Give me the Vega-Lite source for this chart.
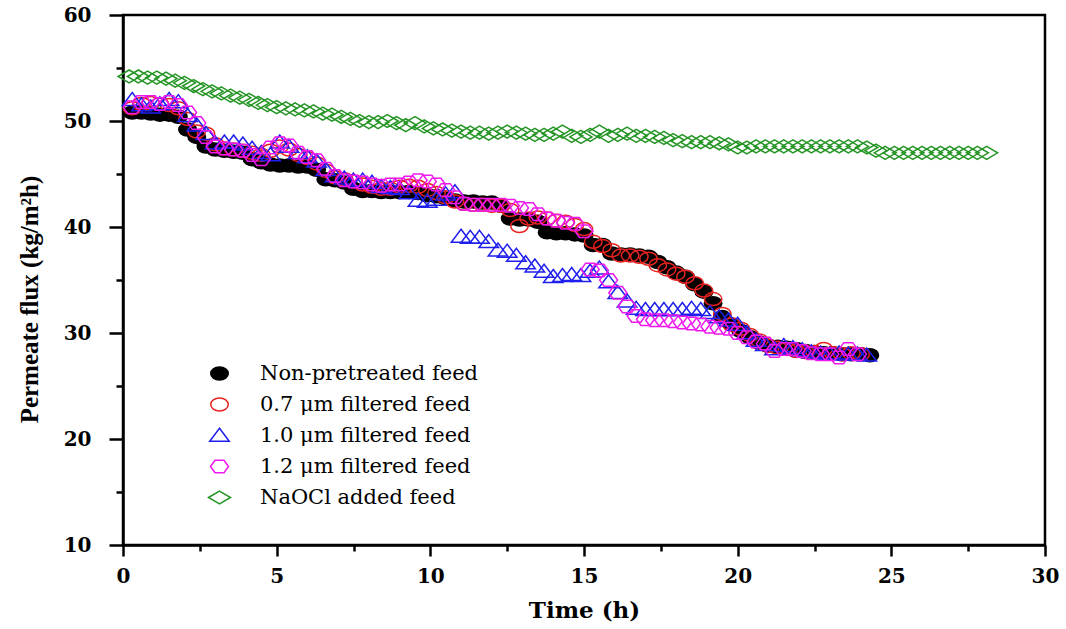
{
"$schema": "https://vega.github.io/schema/vega-lite/v6.json",
"autosize": "none",
"width": 922,
"height": 530,
"padding": {"left": 123, "top": 15, "right": 21, "bottom": 84},
"background": "white",
"config": {
  "view": {"stroke": "black", "strokeWidth": 2.5},
  "axis": {"grid": false, "domainColor": "black", "domainWidth": 2.5, "tickColor": "black", "tickWidth": 2.5, "labelColor": "black", "titleColor": "black"}
},
"data": {"values": [
{"f":"Non-pretreated feed","t":0.3,"v":50.8},{"f":"Non-pretreated feed","t":0.6,"v":50.8},{"f":"Non-pretreated feed","t":0.9,"v":50.7},{"f":"Non-pretreated feed","t":1.2,"v":50.6},{"f":"Non-pretreated feed","t":1.5,"v":50.6},{"f":"Non-pretreated feed","t":1.8,"v":50.4},{"f":"Non-pretreated feed","t":2.1,"v":49.2},{"f":"Non-pretreated feed","t":2.4,"v":48.5},{"f":"Non-pretreated feed","t":2.7,"v":47.6},{"f":"Non-pretreated feed","t":3.0,"v":47.3},{"f":"Non-pretreated feed","t":3.3,"v":47.2},{"f":"Non-pretreated feed","t":3.6,"v":47.1},{"f":"Non-pretreated feed","t":3.9,"v":47.0},{"f":"Non-pretreated feed","t":4.2,"v":46.4},{"f":"Non-pretreated feed","t":4.5,"v":46.1},{"f":"Non-pretreated feed","t":4.8,"v":45.9},{"f":"Non-pretreated feed","t":5.1,"v":45.8},{"f":"Non-pretreated feed","t":5.4,"v":45.8},{"f":"Non-pretreated feed","t":5.7,"v":45.7},{"f":"Non-pretreated feed","t":6.0,"v":45.7},{"f":"Non-pretreated feed","t":6.3,"v":45.4},{"f":"Non-pretreated feed","t":6.6,"v":44.5},{"f":"Non-pretreated feed","t":6.9,"v":44.4},{"f":"Non-pretreated feed","t":7.2,"v":44.2},{"f":"Non-pretreated feed","t":7.5,"v":43.6},{"f":"Non-pretreated feed","t":7.8,"v":43.4},{"f":"Non-pretreated feed","t":8.1,"v":43.4},{"f":"Non-pretreated feed","t":8.4,"v":43.3},{"f":"Non-pretreated feed","t":8.7,"v":43.3},{"f":"Non-pretreated feed","t":9.0,"v":43.3},{"f":"Non-pretreated feed","t":9.3,"v":43.3},{"f":"Non-pretreated feed","t":9.6,"v":43.2},{"f":"Non-pretreated feed","t":9.9,"v":43.0},{"f":"Non-pretreated feed","t":10.2,"v":42.9},{"f":"Non-pretreated feed","t":10.5,"v":42.7},{"f":"Non-pretreated feed","t":10.8,"v":42.5},{"f":"Non-pretreated feed","t":11.1,"v":42.4},{"f":"Non-pretreated feed","t":11.4,"v":42.4},{"f":"Non-pretreated feed","t":11.7,"v":42.3},{"f":"Non-pretreated feed","t":12.0,"v":42.3},{"f":"Non-pretreated feed","t":12.3,"v":42.0},{"f":"Non-pretreated feed","t":12.6,"v":40.8},{"f":"Non-pretreated feed","t":12.9,"v":40.7},{"f":"Non-pretreated feed","t":13.2,"v":40.7},{"f":"Non-pretreated feed","t":13.5,"v":40.5},{"f":"Non-pretreated feed","t":13.8,"v":39.5},{"f":"Non-pretreated feed","t":14.1,"v":39.4},{"f":"Non-pretreated feed","t":14.4,"v":39.4},{"f":"Non-pretreated feed","t":14.7,"v":39.3},{"f":"Non-pretreated feed","t":15.0,"v":39.2},{"f":"Non-pretreated feed","t":15.3,"v":38.3},{"f":"Non-pretreated feed","t":15.6,"v":38.3},{"f":"Non-pretreated feed","t":15.9,"v":37.5},{"f":"Non-pretreated feed","t":16.2,"v":37.4},{"f":"Non-pretreated feed","t":16.5,"v":37.4},{"f":"Non-pretreated feed","t":16.8,"v":37.3},{"f":"Non-pretreated feed","t":17.1,"v":37.2},{"f":"Non-pretreated feed","t":17.4,"v":36.7},{"f":"Non-pretreated feed","t":17.7,"v":36.2},{"f":"Non-pretreated feed","t":18.0,"v":35.7},{"f":"Non-pretreated feed","t":18.3,"v":35.3},{"f":"Non-pretreated feed","t":18.6,"v":34.6},{"f":"Non-pretreated feed","t":18.9,"v":33.9},{"f":"Non-pretreated feed","t":19.2,"v":32.8},{"f":"Non-pretreated feed","t":19.5,"v":31.5},{"f":"Non-pretreated feed","t":19.8,"v":30.8},{"f":"Non-pretreated feed","t":20.1,"v":30.2},{"f":"Non-pretreated feed","t":20.4,"v":29.6},{"f":"Non-pretreated feed","t":20.7,"v":29.1},{"f":"Non-pretreated feed","t":21.0,"v":28.8},{"f":"Non-pretreated feed","t":21.3,"v":28.7},{"f":"Non-pretreated feed","t":21.6,"v":28.6},{"f":"Non-pretreated feed","t":21.9,"v":28.5},{"f":"Non-pretreated feed","t":22.2,"v":28.3},{"f":"Non-pretreated feed","t":22.5,"v":28.2},{"f":"Non-pretreated feed","t":22.8,"v":28.1},{"f":"Non-pretreated feed","t":23.1,"v":28.1},{"f":"Non-pretreated feed","t":23.4,"v":28.0},{"f":"Non-pretreated feed","t":23.7,"v":28.0},{"f":"Non-pretreated feed","t":24.0,"v":28.0},{"f":"Non-pretreated feed","t":24.3,"v":27.9},
{"f":"0.7 μm filtered feed","t":0.3,"v":51.2},{"f":"0.7 μm filtered feed","t":0.6,"v":51.6},{"f":"0.7 μm filtered feed","t":0.9,"v":51.7},{"f":"0.7 μm filtered feed","t":1.2,"v":51.6},{"f":"0.7 μm filtered feed","t":1.5,"v":51.5},{"f":"0.7 μm filtered feed","t":1.8,"v":51.2},{"f":"0.7 μm filtered feed","t":2.1,"v":50.2},{"f":"0.7 μm filtered feed","t":2.4,"v":49.0},{"f":"0.7 μm filtered feed","t":2.7,"v":48.8},{"f":"0.7 μm filtered feed","t":3.0,"v":47.8},{"f":"0.7 μm filtered feed","t":3.3,"v":47.4},{"f":"0.7 μm filtered feed","t":3.6,"v":47.3},{"f":"0.7 μm filtered feed","t":3.9,"v":47.2},{"f":"0.7 μm filtered feed","t":4.2,"v":47.0},{"f":"0.7 μm filtered feed","t":4.5,"v":46.8},{"f":"0.7 μm filtered feed","t":4.8,"v":47.2},{"f":"0.7 μm filtered feed","t":5.1,"v":47.6},{"f":"0.7 μm filtered feed","t":5.4,"v":47.3},{"f":"0.7 μm filtered feed","t":5.7,"v":46.8},{"f":"0.7 μm filtered feed","t":6.0,"v":46.5},{"f":"0.7 μm filtered feed","t":6.3,"v":46.0},{"f":"0.7 μm filtered feed","t":6.6,"v":45.3},{"f":"0.7 μm filtered feed","t":6.9,"v":44.7},{"f":"0.7 μm filtered feed","t":7.2,"v":44.5},{"f":"0.7 μm filtered feed","t":7.5,"v":44.3},{"f":"0.7 μm filtered feed","t":7.8,"v":44.0},{"f":"0.7 μm filtered feed","t":8.1,"v":43.8},{"f":"0.7 μm filtered feed","t":8.4,"v":43.6},{"f":"0.7 μm filtered feed","t":8.7,"v":43.6},{"f":"0.7 μm filtered feed","t":9.0,"v":43.8},{"f":"0.7 μm filtered feed","t":9.3,"v":43.9},{"f":"0.7 μm filtered feed","t":9.6,"v":43.8},{"f":"0.7 μm filtered feed","t":9.9,"v":43.5},{"f":"0.7 μm filtered feed","t":10.2,"v":43.2},{"f":"0.7 μm filtered feed","t":10.5,"v":42.8},{"f":"0.7 μm filtered feed","t":10.8,"v":42.4},{"f":"0.7 μm filtered feed","t":11.1,"v":42.2},{"f":"0.7 μm filtered feed","t":11.4,"v":42.1},{"f":"0.7 μm filtered feed","t":11.7,"v":42.1},{"f":"0.7 μm filtered feed","t":12.0,"v":42.0},{"f":"0.7 μm filtered feed","t":12.3,"v":42.0},{"f":"0.7 μm filtered feed","t":12.6,"v":41.6},{"f":"0.7 μm filtered feed","t":12.9,"v":40.1},{"f":"0.7 μm filtered feed","t":13.2,"v":40.8},{"f":"0.7 μm filtered feed","t":13.5,"v":40.9},{"f":"0.7 μm filtered feed","t":13.8,"v":40.8},{"f":"0.7 μm filtered feed","t":14.1,"v":40.6},{"f":"0.7 μm filtered feed","t":14.4,"v":40.5},{"f":"0.7 μm filtered feed","t":14.7,"v":40.2},{"f":"0.7 μm filtered feed","t":15.0,"v":39.8},{"f":"0.7 μm filtered feed","t":15.3,"v":38.6},{"f":"0.7 μm filtered feed","t":15.6,"v":38.2},{"f":"0.7 μm filtered feed","t":15.9,"v":37.8},{"f":"0.7 μm filtered feed","t":16.2,"v":37.3},{"f":"0.7 μm filtered feed","t":16.5,"v":37.3},{"f":"0.7 μm filtered feed","t":16.8,"v":37.2},{"f":"0.7 μm filtered feed","t":17.1,"v":37.0},{"f":"0.7 μm filtered feed","t":17.4,"v":36.4},{"f":"0.7 μm filtered feed","t":17.7,"v":36.0},{"f":"0.7 μm filtered feed","t":18.0,"v":35.6},{"f":"0.7 μm filtered feed","t":18.3,"v":35.3},{"f":"0.7 μm filtered feed","t":18.6,"v":34.7},{"f":"0.7 μm filtered feed","t":18.9,"v":34.0},{"f":"0.7 μm filtered feed","t":19.2,"v":33.2},{"f":"0.7 μm filtered feed","t":19.5,"v":31.8},{"f":"0.7 μm filtered feed","t":19.8,"v":30.8},{"f":"0.7 μm filtered feed","t":20.1,"v":30.4},{"f":"0.7 μm filtered feed","t":20.4,"v":29.8},{"f":"0.7 μm filtered feed","t":20.7,"v":29.3},{"f":"0.7 μm filtered feed","t":21.0,"v":28.8},{"f":"0.7 μm filtered feed","t":21.3,"v":28.6},{"f":"0.7 μm filtered feed","t":21.6,"v":28.5},{"f":"0.7 μm filtered feed","t":21.9,"v":28.3},{"f":"0.7 μm filtered feed","t":22.2,"v":28.2},{"f":"0.7 μm filtered feed","t":22.5,"v":28.2},{"f":"0.7 μm filtered feed","t":22.8,"v":28.5},{"f":"0.7 μm filtered feed","t":23.1,"v":28.1},{"f":"0.7 μm filtered feed","t":23.4,"v":28.0},{"f":"0.7 μm filtered feed","t":23.7,"v":28.1},{"f":"0.7 μm filtered feed","t":24.0,"v":28.0},
{"f":"1.0 μm filtered feed","t":0.3,"v":52.0},{"f":"1.0 μm filtered feed","t":0.6,"v":51.5},{"f":"1.0 μm filtered feed","t":0.9,"v":51.3},{"f":"1.0 μm filtered feed","t":1.2,"v":51.6},{"f":"1.0 μm filtered feed","t":1.5,"v":52.0},{"f":"1.0 μm filtered feed","t":1.8,"v":51.8},{"f":"1.0 μm filtered feed","t":2.1,"v":50.5},{"f":"1.0 μm filtered feed","t":2.4,"v":49.6},{"f":"1.0 μm filtered feed","t":2.7,"v":48.8},{"f":"1.0 μm filtered feed","t":3.0,"v":47.9},{"f":"1.0 μm filtered feed","t":3.3,"v":48.0},{"f":"1.0 μm filtered feed","t":3.6,"v":48.0},{"f":"1.0 μm filtered feed","t":3.9,"v":47.8},{"f":"1.0 μm filtered feed","t":4.2,"v":47.4},{"f":"1.0 μm filtered feed","t":4.5,"v":47.0},{"f":"1.0 μm filtered feed","t":4.8,"v":46.8},{"f":"1.0 μm filtered feed","t":5.1,"v":48.0},{"f":"1.0 μm filtered feed","t":5.4,"v":47.6},{"f":"1.0 μm filtered feed","t":5.7,"v":47.0},{"f":"1.0 μm filtered feed","t":6.0,"v":46.6},{"f":"1.0 μm filtered feed","t":6.3,"v":46.2},{"f":"1.0 μm filtered feed","t":6.6,"v":45.4},{"f":"1.0 μm filtered feed","t":6.9,"v":44.8},{"f":"1.0 μm filtered feed","t":7.2,"v":44.6},{"f":"1.0 μm filtered feed","t":7.5,"v":44.4},{"f":"1.0 μm filtered feed","t":7.8,"v":44.4},{"f":"1.0 μm filtered feed","t":8.1,"v":44.2},{"f":"1.0 μm filtered feed","t":8.4,"v":43.8},{"f":"1.0 μm filtered feed","t":8.7,"v":43.7},{"f":"1.0 μm filtered feed","t":9.0,"v":43.6},{"f":"1.0 μm filtered feed","t":9.3,"v":43.2},{"f":"1.0 μm filtered feed","t":9.6,"v":42.5},{"f":"1.0 μm filtered feed","t":9.9,"v":42.4},{"f":"1.0 μm filtered feed","t":10.2,"v":42.6},{"f":"1.0 μm filtered feed","t":10.5,"v":43.1},{"f":"1.0 μm filtered feed","t":10.8,"v":43.3},{"f":"1.0 μm filtered feed","t":11.0,"v":39.1},{"f":"1.0 μm filtered feed","t":11.3,"v":39.0},{"f":"1.0 μm filtered feed","t":11.6,"v":39.0},{"f":"1.0 μm filtered feed","t":11.9,"v":38.6},{"f":"1.0 μm filtered feed","t":12.2,"v":37.8},{"f":"1.0 μm filtered feed","t":12.5,"v":37.7},{"f":"1.0 μm filtered feed","t":12.8,"v":37.3},{"f":"1.0 μm filtered feed","t":13.1,"v":36.6},{"f":"1.0 μm filtered feed","t":13.4,"v":36.3},{"f":"1.0 μm filtered feed","t":13.7,"v":35.8},{"f":"1.0 μm filtered feed","t":14.0,"v":35.3},{"f":"1.0 μm filtered feed","t":14.3,"v":35.4},{"f":"1.0 μm filtered feed","t":14.6,"v":35.5},{"f":"1.0 μm filtered feed","t":14.9,"v":35.4},{"f":"1.0 μm filtered feed","t":15.2,"v":35.8},{"f":"1.0 μm filtered feed","t":15.5,"v":36.1},{"f":"1.0 μm filtered feed","t":15.8,"v":34.8},{"f":"1.0 μm filtered feed","t":16.1,"v":33.8},{"f":"1.0 μm filtered feed","t":16.4,"v":33.0},{"f":"1.0 μm filtered feed","t":16.7,"v":32.3},{"f":"1.0 μm filtered feed","t":17.0,"v":32.2},{"f":"1.0 μm filtered feed","t":17.3,"v":32.2},{"f":"1.0 μm filtered feed","t":17.6,"v":32.2},{"f":"1.0 μm filtered feed","t":17.9,"v":32.2},{"f":"1.0 μm filtered feed","t":18.2,"v":32.2},{"f":"1.0 μm filtered feed","t":18.5,"v":32.3},{"f":"1.0 μm filtered feed","t":18.8,"v":32.2},{"f":"1.0 μm filtered feed","t":19.1,"v":31.9},{"f":"1.0 μm filtered feed","t":19.4,"v":31.5},{"f":"1.0 μm filtered feed","t":19.7,"v":31.2},{"f":"1.0 μm filtered feed","t":20.0,"v":30.8},{"f":"1.0 μm filtered feed","t":20.3,"v":30.0},{"f":"1.0 μm filtered feed","t":20.6,"v":29.3},{"f":"1.0 μm filtered feed","t":20.9,"v":28.9},{"f":"1.0 μm filtered feed","t":21.2,"v":28.5},{"f":"1.0 μm filtered feed","t":21.5,"v":28.8},{"f":"1.0 μm filtered feed","t":21.8,"v":28.6},{"f":"1.0 μm filtered feed","t":22.1,"v":28.4},{"f":"1.0 μm filtered feed","t":22.4,"v":28.2},{"f":"1.0 μm filtered feed","t":22.7,"v":28.1},{"f":"1.0 μm filtered feed","t":23.0,"v":28.0},{"f":"1.0 μm filtered feed","t":23.3,"v":28.1},{"f":"1.0 μm filtered feed","t":23.6,"v":28.0},{"f":"1.0 μm filtered feed","t":23.9,"v":28.0},{"f":"1.0 μm filtered feed","t":24.2,"v":27.9},
{"f":"1.2 μm filtered feed","t":0.3,"v":51.3},{"f":"1.2 μm filtered feed","t":0.6,"v":51.8},{"f":"1.2 μm filtered feed","t":0.9,"v":51.8},{"f":"1.2 μm filtered feed","t":1.2,"v":51.6},{"f":"1.2 μm filtered feed","t":1.5,"v":51.8},{"f":"1.2 μm filtered feed","t":1.8,"v":51.5},{"f":"1.2 μm filtered feed","t":2.1,"v":50.8},{"f":"1.2 μm filtered feed","t":2.4,"v":49.8},{"f":"1.2 μm filtered feed","t":2.7,"v":48.5},{"f":"1.2 μm filtered feed","t":3.0,"v":47.6},{"f":"1.2 μm filtered feed","t":3.3,"v":47.4},{"f":"1.2 μm filtered feed","t":3.6,"v":47.3},{"f":"1.2 μm filtered feed","t":3.9,"v":47.2},{"f":"1.2 μm filtered feed","t":4.2,"v":46.8},{"f":"1.2 μm filtered feed","t":4.5,"v":46.4},{"f":"1.2 μm filtered feed","t":4.8,"v":47.5},{"f":"1.2 μm filtered feed","t":5.1,"v":47.9},{"f":"1.2 μm filtered feed","t":5.4,"v":47.7},{"f":"1.2 μm filtered feed","t":5.7,"v":47.0},{"f":"1.2 μm filtered feed","t":6.0,"v":46.6},{"f":"1.2 μm filtered feed","t":6.3,"v":46.3},{"f":"1.2 μm filtered feed","t":6.6,"v":45.5},{"f":"1.2 μm filtered feed","t":6.9,"v":44.8},{"f":"1.2 μm filtered feed","t":7.2,"v":44.4},{"f":"1.2 μm filtered feed","t":7.5,"v":44.3},{"f":"1.2 μm filtered feed","t":7.8,"v":44.2},{"f":"1.2 μm filtered feed","t":8.1,"v":44.0},{"f":"1.2 μm filtered feed","t":8.4,"v":43.9},{"f":"1.2 μm filtered feed","t":8.7,"v":44.0},{"f":"1.2 μm filtered feed","t":9.0,"v":44.0},{"f":"1.2 μm filtered feed","t":9.3,"v":44.2},{"f":"1.2 μm filtered feed","t":9.6,"v":44.4},{"f":"1.2 μm filtered feed","t":9.9,"v":44.3},{"f":"1.2 μm filtered feed","t":10.2,"v":44.0},{"f":"1.2 μm filtered feed","t":10.5,"v":43.5},{"f":"1.2 μm filtered feed","t":10.8,"v":42.8},{"f":"1.2 μm filtered feed","t":11.1,"v":42.2},{"f":"1.2 μm filtered feed","t":11.4,"v":42.1},{"f":"1.2 μm filtered feed","t":11.7,"v":42.1},{"f":"1.2 μm filtered feed","t":12.0,"v":42.1},{"f":"1.2 μm filtered feed","t":12.3,"v":42.1},{"f":"1.2 μm filtered feed","t":12.6,"v":42.0},{"f":"1.2 μm filtered feed","t":12.9,"v":41.8},{"f":"1.2 μm filtered feed","t":13.2,"v":41.7},{"f":"1.2 μm filtered feed","t":13.5,"v":41.2},{"f":"1.2 μm filtered feed","t":13.8,"v":40.8},{"f":"1.2 μm filtered feed","t":14.1,"v":40.6},{"f":"1.2 μm filtered feed","t":14.4,"v":40.4},{"f":"1.2 μm filtered feed","t":14.7,"v":40.3},{"f":"1.2 μm filtered feed","t":15.0,"v":39.6},{"f":"1.2 μm filtered feed","t":15.2,"v":36.0},{"f":"1.2 μm filtered feed","t":15.5,"v":35.9},{"f":"1.2 μm filtered feed","t":15.8,"v":35.0},{"f":"1.2 μm filtered feed","t":16.1,"v":33.8},{"f":"1.2 μm filtered feed","t":16.4,"v":32.5},{"f":"1.2 μm filtered feed","t":16.7,"v":31.6},{"f":"1.2 μm filtered feed","t":17.0,"v":31.3},{"f":"1.2 μm filtered feed","t":17.3,"v":31.2},{"f":"1.2 μm filtered feed","t":17.6,"v":31.2},{"f":"1.2 μm filtered feed","t":17.9,"v":31.1},{"f":"1.2 μm filtered feed","t":18.2,"v":31.0},{"f":"1.2 μm filtered feed","t":18.5,"v":30.9},{"f":"1.2 μm filtered feed","t":18.8,"v":30.8},{"f":"1.2 μm filtered feed","t":19.1,"v":30.6},{"f":"1.2 μm filtered feed","t":19.4,"v":30.5},{"f":"1.2 μm filtered feed","t":19.7,"v":30.4},{"f":"1.2 μm filtered feed","t":20.0,"v":30.0},{"f":"1.2 μm filtered feed","t":20.3,"v":29.6},{"f":"1.2 μm filtered feed","t":20.6,"v":29.2},{"f":"1.2 μm filtered feed","t":20.9,"v":29.0},{"f":"1.2 μm filtered feed","t":21.2,"v":28.3},{"f":"1.2 μm filtered feed","t":21.5,"v":28.5},{"f":"1.2 μm filtered feed","t":21.8,"v":28.5},{"f":"1.2 μm filtered feed","t":22.1,"v":28.3},{"f":"1.2 μm filtered feed","t":22.4,"v":28.1},{"f":"1.2 μm filtered feed","t":22.7,"v":28.0},{"f":"1.2 μm filtered feed","t":23.0,"v":28.0},{"f":"1.2 μm filtered feed","t":23.3,"v":27.7},{"f":"1.2 μm filtered feed","t":23.6,"v":28.5},{"f":"1.2 μm filtered feed","t":23.9,"v":28.0},
{"f":"NaOCl added feed","t":0.2,"v":54.2},{"f":"NaOCl added feed","t":0.5,"v":54.2},{"f":"NaOCl added feed","t":0.8,"v":54.1},{"f":"NaOCl added feed","t":1.1,"v":54.1},{"f":"NaOCl added feed","t":1.4,"v":54.0},{"f":"NaOCl added feed","t":1.7,"v":53.8},{"f":"NaOCl added feed","t":2.0,"v":53.6},{"f":"NaOCl added feed","t":2.3,"v":53.3},{"f":"NaOCl added feed","t":2.6,"v":53.0},{"f":"NaOCl added feed","t":2.9,"v":52.8},{"f":"NaOCl added feed","t":3.2,"v":52.6},{"f":"NaOCl added feed","t":3.5,"v":52.4},{"f":"NaOCl added feed","t":3.8,"v":52.2},{"f":"NaOCl added feed","t":4.1,"v":52.0},{"f":"NaOCl added feed","t":4.4,"v":51.7},{"f":"NaOCl added feed","t":4.7,"v":51.5},{"f":"NaOCl added feed","t":5.0,"v":51.3},{"f":"NaOCl added feed","t":5.3,"v":51.2},{"f":"NaOCl added feed","t":5.6,"v":51.1},{"f":"NaOCl added feed","t":5.9,"v":51.0},{"f":"NaOCl added feed","t":6.2,"v":50.9},{"f":"NaOCl added feed","t":6.5,"v":50.7},{"f":"NaOCl added feed","t":6.8,"v":50.6},{"f":"NaOCl added feed","t":7.1,"v":50.4},{"f":"NaOCl added feed","t":7.4,"v":50.2},{"f":"NaOCl added feed","t":7.7,"v":50.0},{"f":"NaOCl added feed","t":8.0,"v":49.9},{"f":"NaOCl added feed","t":8.3,"v":49.9},{"f":"NaOCl added feed","t":8.6,"v":50.0},{"f":"NaOCl added feed","t":8.9,"v":49.8},{"f":"NaOCl added feed","t":9.2,"v":49.6},{"f":"NaOCl added feed","t":9.5,"v":49.8},{"f":"NaOCl added feed","t":9.8,"v":49.5},{"f":"NaOCl added feed","t":10.1,"v":49.3},{"f":"NaOCl added feed","t":10.4,"v":49.2},{"f":"NaOCl added feed","t":10.7,"v":49.1},{"f":"NaOCl added feed","t":11.0,"v":49.0},{"f":"NaOCl added feed","t":11.3,"v":48.9},{"f":"NaOCl added feed","t":11.6,"v":48.9},{"f":"NaOCl added feed","t":11.9,"v":48.8},{"f":"NaOCl added feed","t":12.2,"v":48.9},{"f":"NaOCl added feed","t":12.5,"v":49.0},{"f":"NaOCl added feed","t":12.8,"v":48.9},{"f":"NaOCl added feed","t":13.1,"v":48.8},{"f":"NaOCl added feed","t":13.4,"v":48.7},{"f":"NaOCl added feed","t":13.7,"v":48.7},{"f":"NaOCl added feed","t":14.0,"v":48.8},{"f":"NaOCl added feed","t":14.3,"v":49.0},{"f":"NaOCl added feed","t":14.6,"v":48.6},{"f":"NaOCl added feed","t":14.9,"v":48.5},{"f":"NaOCl added feed","t":15.2,"v":48.7},{"f":"NaOCl added feed","t":15.5,"v":49.0},{"f":"NaOCl added feed","t":15.8,"v":48.6},{"f":"NaOCl added feed","t":16.1,"v":48.7},{"f":"NaOCl added feed","t":16.4,"v":48.8},{"f":"NaOCl added feed","t":16.7,"v":48.6},{"f":"NaOCl added feed","t":17.0,"v":48.6},{"f":"NaOCl added feed","t":17.3,"v":48.5},{"f":"NaOCl added feed","t":17.6,"v":48.4},{"f":"NaOCl added feed","t":17.9,"v":48.2},{"f":"NaOCl added feed","t":18.2,"v":48.1},{"f":"NaOCl added feed","t":18.5,"v":48.0},{"f":"NaOCl added feed","t":18.8,"v":48.0},{"f":"NaOCl added feed","t":19.1,"v":48.0},{"f":"NaOCl added feed","t":19.4,"v":47.9},{"f":"NaOCl added feed","t":19.7,"v":47.8},{"f":"NaOCl added feed","t":20.0,"v":47.5},{"f":"NaOCl added feed","t":20.3,"v":47.5},{"f":"NaOCl added feed","t":20.6,"v":47.6},{"f":"NaOCl added feed","t":20.9,"v":47.6},{"f":"NaOCl added feed","t":21.2,"v":47.6},{"f":"NaOCl added feed","t":21.5,"v":47.6},{"f":"NaOCl added feed","t":21.8,"v":47.6},{"f":"NaOCl added feed","t":22.1,"v":47.6},{"f":"NaOCl added feed","t":22.4,"v":47.6},{"f":"NaOCl added feed","t":22.7,"v":47.6},{"f":"NaOCl added feed","t":23.0,"v":47.6},{"f":"NaOCl added feed","t":23.3,"v":47.6},{"f":"NaOCl added feed","t":23.6,"v":47.6},{"f":"NaOCl added feed","t":23.9,"v":47.6},{"f":"NaOCl added feed","t":24.2,"v":47.5},{"f":"NaOCl added feed","t":24.5,"v":47.2},{"f":"NaOCl added feed","t":24.8,"v":47.0},{"f":"NaOCl added feed","t":25.1,"v":47.0},{"f":"NaOCl added feed","t":25.4,"v":47.0},{"f":"NaOCl added feed","t":25.7,"v":47.0},{"f":"NaOCl added feed","t":26.0,"v":47.0},{"f":"NaOCl added feed","t":26.3,"v":47.0},{"f":"NaOCl added feed","t":26.6,"v":47.0},{"f":"NaOCl added feed","t":26.9,"v":47.0},{"f":"NaOCl added feed","t":27.2,"v":47.0},{"f":"NaOCl added feed","t":27.5,"v":47.0},{"f":"NaOCl added feed","t":27.8,"v":47.0},{"f":"NaOCl added feed","t":28.1,"v":47.0}
]},
"mark": {"type": "point", "filled": false, "size": 100, "strokeWidth": 1.5, "opacity": 1},
"encoding": {
  "x": {"field": "t", "type": "quantitative",
    "scale": {"domain": [0, 30], "nice": false, "zero": false},
    "axis": {"title": "Time (h)", "values": [0,2.5,5,7.5,10,12.5,15,17.5,20,22.5,25,27.5,30],
      "labelExpr": "datum.value % 5 === 0 ? datum.label : ''",
      "tickSize": {"condition": {"test": "datum.value % 5 === 0", "value": 11}, "value": 6},
      "labelPadding": 10, "labelFont": "DejaVu Serif", "labelFontWeight": "bold", "labelFontSize": 20,
      "titleFont": "DejaVu Serif", "titleFontWeight": "bold", "titleFontSize": 23, "titleY": 65, "titleBaseline": "middle", "labelFlush": false}},
  "y": {"field": "v", "type": "quantitative",
    "scale": {"domain": [10, 60], "nice": false, "zero": false},
    "axis": {"title": "Permeate flux (kg/m²h)", "values": [10,15,20,25,30,35,40,45,50,55,60],
      "labelExpr": "datum.value % 10 === 0 ? datum.label : ''",
      "tickSize": {"condition": {"test": "datum.value % 10 === 0", "value": 14}, "value": 7},
      "labelPadding": 18, "labelFont": "DejaVu Serif", "labelFontWeight": "bold", "labelFontSize": 20,
      "titleFont": "Liberation Serif", "titleFontWeight": "bold", "titleFontSize": 25, "titleX": -94, "titleY": 284, "titleAngle": -90, "titleAlign": "center", "titleBaseline": "middle", "labelFlush": false}},
  "stroke": {"field": "f", "type": "nominal",
    "scale": {"domain": ["Non-pretreated feed","0.7 μm filtered feed","1.0 μm filtered feed","1.2 μm filtered feed","NaOCl added feed"],
              "range": ["#000000","#e8231f","#1f1fee","#ee18ee","#259525"]},
    "legend": {"title": null, "orient": "none", "legendX": 86, "legendY": 348, "padding": 0,
      "labelFont": "DejaVu Serif", "labelFontSize": 21, "labelColor": "black", "labelOffset": 30,
      "symbolSize": 100, "symbolStrokeWidth": 1.5, "rowPadding": 9, "labelLimit": 400}},
  "fill": {"field": "f", "type": "nominal",
    "scale": {"domain": ["Non-pretreated feed","0.7 μm filtered feed","1.0 μm filtered feed","1.2 μm filtered feed","NaOCl added feed"],
              "range": ["#000000","transparent","transparent","transparent","transparent"]},
    "legend": {"title": null, "orient": "none", "legendX": 86, "legendY": 348, "padding": 0,
      "labelFont": "DejaVu Serif", "labelFontSize": 21, "labelColor": "black", "labelOffset": 30,
      "symbolSize": 100, "symbolStrokeWidth": 1.5, "rowPadding": 9, "labelLimit": 400}},
  "shape": {"field": "f", "type": "nominal",
    "scale": {"domain": ["Non-pretreated feed","0.7 μm filtered feed","1.0 μm filtered feed","1.2 μm filtered feed","NaOCl added feed"],
              "range": ["M-1.75,0A1.75,1.3,0,1,0,1.75,0A1.75,1.3,0,1,0,-1.75,0Z","M-1.75,0A1.75,1.3,0,1,0,1.75,0A1.75,1.3,0,1,0,-1.75,0Z","M0,-1.45L1.95,1.15L-1.95,1.15Z","M-1.8,0L-0.9,-1.25L0.9,-1.25L1.8,0L0.9,1.25L-0.9,1.25Z","M-2.2,0L0,-1.3L2.2,0L0,1.3Z"]},
    "legend": {"title": null, "orient": "none", "legendX": 86, "legendY": 348, "padding": 0,
      "labelFont": "DejaVu Serif", "labelFontSize": 21, "labelColor": "black", "labelOffset": 30,
      "symbolSize": 100, "symbolStrokeWidth": 1.5, "rowPadding": 9, "labelLimit": 400}}
}
}
